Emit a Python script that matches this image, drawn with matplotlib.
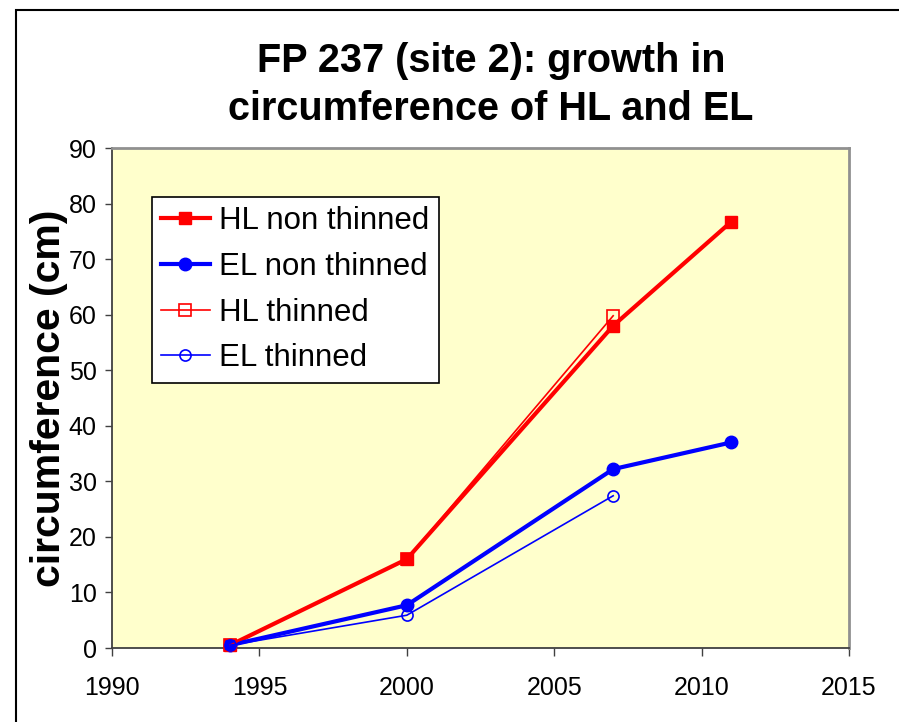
import matplotlib
matplotlib.use("Agg")
from matplotlib import pyplot as plt
from matplotlib.patches import Rectangle

plt.rcParams['font.family'] = ['Liberation Sans', 'DejaVu Sans']

years_hl = [1994, 2000, 2007, 2011]
years_thin = [1994, 2000, 2007]
hl_non_thinned = [0.5, 16.0, 58.0, 76.7]
el_non_thinned = [0.5, 7.7, 32.2, 37.0]
hl_thinned = [0.5, 16.0, 59.8]
el_thinned = [0.5, 5.9, 27.4]

title_lines = ["FP 237 (site 2): growth in", "circumference of HL and EL"]
x_ticks = [1990, 1995, 2000, 2005, 2010, 2015]
y_ticks = list(range(0, 100, 10))


def plot_chart():
    fig = plt.figure(figsize=(8.99, 7.22), dpi=100)
    ax = fig.add_axes([112 / 899, 74 / 722, 737 / 899, 500 / 722])
    ax.set_facecolor('#FFFFCC')

    ax.plot(years_hl, hl_non_thinned, '-s', color='#FF0000', lw=3,
            ms=9, label='HL non thinned', clip_on=False, zorder=3)
    ax.plot(years_hl, el_non_thinned, '-o', color='#0000FF', lw=3,
            ms=9, label='EL non thinned', clip_on=False, zorder=3)
    ax.plot(years_thin, hl_thinned, '-s', color='#FF0000', lw=1.2,
            ms=8, mfc='none', mew=1.2, label='HL thinned', clip_on=False, zorder=4)
    ax.plot(years_thin, el_thinned, '-o', color='#0000FF', lw=1.2,
            ms=8, mfc='none', mew=1.2, label='EL thinned', clip_on=False, zorder=4)

    ax.set_xlim(1990, 2015)
    ax.set_ylim(0, 90)
    ax.set_xticks(x_ticks)
    ax.set_yticks(y_ticks)
    ax.tick_params(axis='y', direction='out', length=5, width=1,
                   labelsize=18, pad=6, color='#404040')
    ax.tick_params(axis='x', direction='out', length=6, width=1,
                   labelsize=18, pad=14, color='#404040')
    for side in ['left', 'bottom']:
        ax.spines[side].set_color('#404040')
        ax.spines[side].set_linewidth(1.3)
    for side in ['top', 'right']:
        ax.spines[side].set_color('#909090')
        ax.spines[side].set_linewidth(2)

    ax.set_ylabel('circumference (cm)', fontsize=29.5, fontweight='bold')
    ax.yaxis.set_label_coords(-0.06, 0.5)

    leg = ax.legend(loc='upper left', bbox_to_anchor=(0.054, 0.902),
                    borderaxespad=0, fontsize=22.5, frameon=True, fancybox=False,
                    framealpha=1, edgecolor='black', handlelength=1.55,
                    handletextpad=0.3, labelspacing=0.5, borderpad=0.3)
    leg.get_frame().set_linewidth(1.2)

    fig.text(491 / 899, 1 - 72 / 722, title_lines[0], ha='center',
             va='baseline', fontsize=28.5, fontweight='bold')
    fig.text(491 / 899, 1 - 120 / 722, title_lines[1], ha='center',
             va='baseline', fontsize=28.5, fontweight='bold')

    # outer chart frame, running off the right and bottom edges
    fig.patches.append(Rectangle((16 / 899, -0.1), 1.0, 1.1 - 10 / 722,
                                 transform=fig.transFigure, fill=False,
                                 lw=1.5, ec='black'))

    fig.savefig('out.png', dpi=100)


def main():
    plot_chart()


if __name__ == "__main__":
    main()
